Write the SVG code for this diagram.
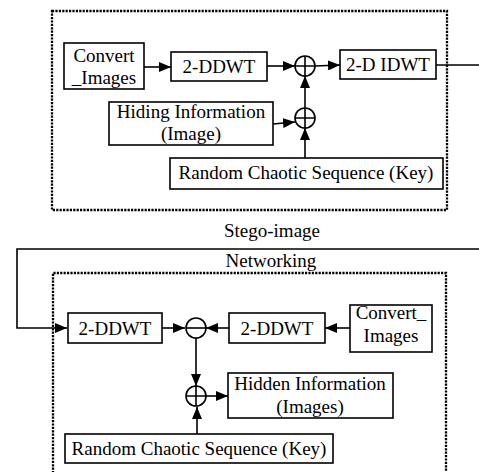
<svg xmlns="http://www.w3.org/2000/svg" width="479" height="472" viewBox="0 0 479 472">
<style>
.box{fill:#fff;stroke:#000;stroke-width:1.6}
.dash{fill:none;stroke:#000;stroke-width:2.3;stroke-dasharray:2.2 1.2}
.ln{fill:none;stroke:#000;stroke-width:1.6}
.t{fill:#000;text-anchor:middle}
.c{fill:#fff;stroke:#000;stroke-width:1.6}
</style>
<defs>
<marker id="ah" viewBox="0 0 12 10" refX="12" refY="5" markerWidth="12" markerHeight="10" markerUnits="userSpaceOnUse" orient="auto">
<path d="M0,0 L12,5 L0,10 z" fill="#000"/>
</marker>
</defs>
<rect width="479" height="472" fill="#fff"/>
<g id="frames">
<rect class="dash" x="52" y="11" width="395" height="199"/>
<path class="dash" d="M53,480 L53,273 L446,273 L446,480"/>
<text class="t" font-family="Liberation Serif" font-size="19" x="272" y="237">Stego-image</text>
<text class="t" font-family="Liberation Serif" font-size="19" x="271" y="267">Networking</text>
</g>
<g id="connectors">
<path class="ln" d="M144,67 L171,67" marker-end="url(#ah)"/>
<path class="ln" d="M267,66 L295,66" marker-end="url(#ah)"/>
<path class="ln" d="M315,66 L340,65" marker-end="url(#ah)"/>
<path class="ln" d="M436,65 L479,65"/>
<path class="ln" d="M305,108 L305,76" marker-end="url(#ah)"/>
<path class="ln" d="M273,124 L295,122" marker-end="url(#ah)"/>
<path class="ln" d="M305,158 L305,128" marker-end="url(#ah)"/>
<path class="ln" d="M479,249 L17,249 L17,328 L67,328" marker-end="url(#ah)"/>
<path class="ln" d="M162,328 L185,328" marker-end="url(#ah)"/>
<path class="ln" d="M229,328 L206,328" marker-end="url(#ah)"/>
<path class="ln" d="M350,328 L325,328" marker-end="url(#ah)"/>
<path class="ln" d="M196,338 L196,386" marker-end="url(#ah)"/>
<path class="ln" d="M206,396 L228,396" marker-end="url(#ah)"/>
<path class="ln" d="M197,434 L197,407" marker-end="url(#ah)"/>
</g>
<g id="convert1"><rect class="box" x="64" y="43" width="80" height="46"/><text class="t" font-family="Liberation Serif" font-size="19" x="104" y="62">Convert</text><text class="t" font-family="Liberation Serif" font-size="19" x="104" y="84">_Images</text></g>
<g id="ddwt1"><rect class="box" x="171" y="52" width="96" height="29"/><text class="t" font-family="Liberation Serif" font-size="19" x="219" y="73">2-DDWT</text></g>
<g id="sum1"><circle class="c" cx="305" cy="66" r="10"/><path class="ln" d="M295,66 H315 M305,56 V76"/></g>
<g id="idwt"><rect class="box" x="340" y="50" width="96" height="29"/><text class="t" font-family="Liberation Serif" font-size="19" x="388" y="71">2-D IDWT</text></g>
<g id="sum2"><circle class="c" cx="305" cy="118" r="10"/><path class="ln" d="M295,118 H315 M305,108 V128"/></g>
<g id="hiding"><rect class="box" x="109" y="102" width="164" height="43"/><text class="t" font-family="Liberation Serif" font-size="19" x="191" y="118">Hiding Information</text><text class="t" font-family="Liberation Serif" font-size="19" x="191" y="140">(Image)</text></g>
<g id="random1"><rect class="box" x="170" y="158" width="273" height="31"/><text class="t" font-family="Liberation Serif" font-size="19" x="306" y="179">Random Chaotic Sequence (Key)</text></g>
<g id="ddwt2"><rect class="box" x="68" y="313" width="94" height="30"/><text class="t" font-family="Liberation Serif" font-size="19" x="115" y="335">2-DDWT</text></g>
<g id="minus"><circle class="c" cx="196" cy="328" r="10"/><path class="ln" d="M186,328 H206"/></g>
<g id="ddwt3"><rect class="box" x="229" y="313" width="96" height="30"/><text class="t" font-family="Liberation Serif" font-size="19" x="277" y="335">2-DDWT</text></g>
<g id="convert2"><rect class="box" x="350" y="305" width="82" height="47"/><text class="t" font-family="Liberation Serif" font-size="19" x="391" y="319">Convert_</text><text class="t" font-family="Liberation Serif" font-size="19" x="391" y="342">Images</text></g>
<g id="sum3"><circle class="c" cx="196" cy="396" r="10"/><path class="ln" d="M186,396 H206 M196,386 V406"/></g>
<g id="hidden"><rect class="box" x="228" y="373" width="165" height="45"/><text class="t" font-family="Liberation Serif" font-size="19" x="310" y="390">Hidden Information</text><text class="t" font-family="Liberation Serif" font-size="19" x="310" y="413">(Images)</text></g>
<g id="random2"><rect class="box" x="65" y="434" width="268" height="29"/><text class="t" font-family="Liberation Serif" font-size="19" x="199" y="455">Random Chaotic Sequence (Key)</text></g>
</svg>
